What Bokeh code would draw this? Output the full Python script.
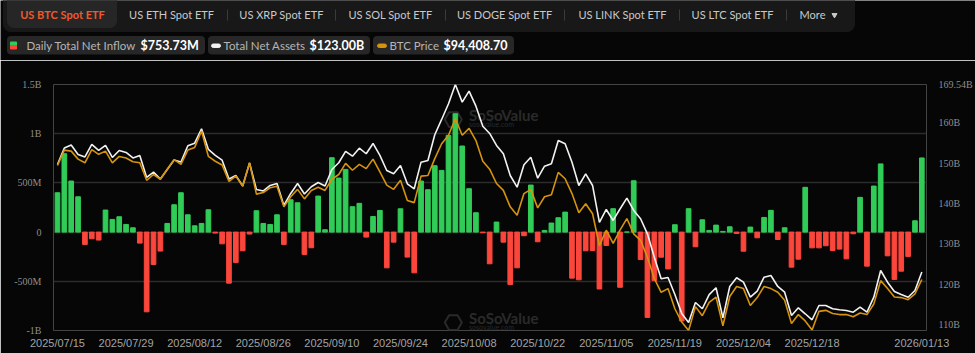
from bokeh.plotting import figure
from bokeh.models import Range1d, LinearAxis, FixedTicker
from bokeh.core.properties import value
from bokeh.embed import file_html
from bokeh.resources import INLINE

# ---------------- data ----------------
tick_idx = [0, 10, 20, 30, 40, 50, 60, 70, 80, 90, 100, 110, 126]
tick_labels = ["2025/07/15", "2025/07/29", "2025/08/12", "2025/08/26", "2025/09/10",
               "2025/09/24", "2025/10/08", "2025/10/22", "2025/11/05", "2025/11/19",
               "2025/12/04", "2025/12/18", "2026/01/13"]

# daily total net inflow, million USD (one per trading day)
net_inflow_m = [400, 797, 519, 359, -125, -68, -81, 224, 129, 156,
                78, 44, -112, -810, -329, -193, 88, 278, 400, 176,
                64, 88, 227, -10, -119, -519, -308, -190, -20, 217,
                88, 78, 176, -125, 329, 298, -227, -159, 366, 24,
                756, 549, 637, 258, 292, -51, 159, 220, -363, -102,
                237, -254, -414, 519, 431, 675, 627, 983, 1203, 875,
                441, 197, -7, -322, 102, -102, -532, -363, -37, 478,
                -98, 17, 92, 146, 203, -468, -485, -190, -187, -578,
                -136, 238, -561, 1, 522, -279, -867, -493, -255, -374,
                75, -903, 238, -149, 125, 17, 71, 7, 54, -14,
                -194, 51, -58, 149, 221, -75, 44, -356, -275, 455,
                -160, -160, -139, -187, -173, -272, -17, 353, -346, 468,
                693, -241, -481, -397, -247, 115, 753.73]

# total net assets, billion USD
net_assets_b = [149.70, 153.80, 154.54, 152.18, 151.56, 154.67, 153.18, 154.42, 151.44, 153.18,
                152.68, 151.32, 151.94, 146.48, 147.79, 146.10, 148.46, 150.82, 150.32, 154.34,
                154.99, 158.56, 153.42, 151.94, 150.77, 146.10, 146.97, 144.37, 150.07, 143.50,
                143.13, 144.49, 145.00, 139.53, 142.51, 144.99, 142.38, 144.17, 145.24, 144.37,
                148.46, 150.12, 152.93, 151.76, 153.75, 152.36, 154.91, 151.94, 148.21, 147.39,
                149.45, 144.91, 143.67, 150.27, 150.69, 157.07, 160.87, 164.76, 169.54, 165.16,
                167.89, 164.17, 159.20, 157.39, 154.42, 152.36, 146.97, 144.07, 149.63, 151.51,
                146.30, 149.28, 149.88, 155.66, 154.84, 150.27, 144.49, 147.39, 144.49, 135.31,
                138.54, 135.81, 138.66, 141.34, 138.29, 136.23, 132.50, 126.70, 121.34, 121.66,
                117.44, 112.73, 110.50, 115.46, 113.90, 117.40, 119.11, 111.66, 119.43, 121.59,
                120.50, 116.77, 118.26, 121.74, 122.16, 119.43, 118.01, 112.23, 114.14, 112.66,
                111.17, 114.71, 114.71, 113.90, 113.65, 113.47, 113.05, 114.29, 113.05, 116.77,
                123.40, 120.50, 118.19, 117.44, 116.77, 118.44, 123.00]

# BTC price, thousand USD
btc_price_k = [115.9, 118.8, 118.6, 117.1, 116.4, 118.9, 118.0, 118.6, 116.4, 117.6,
               117.3, 116.6, 116.4, 113.1, 114.2, 113.3, 115.2, 117.0, 116.1, 118.8,
               119.3, 122.4, 117.6, 116.7, 116.0, 112.9, 113.9, 112.0, 116.4, 110.5,
               110.8, 111.7, 112.0, 108.1, 110.0, 111.4, 109.6, 111.2, 111.8, 111.2,
               113.3, 114.2, 116.3, 115.0, 116.1, 115.3, 117.1, 114.7, 112.2, 111.4,
               113.1, 109.3, 108.9, 113.9, 114.0, 117.2, 120.0, 121.6, 124.7, 121.6,
               122.9, 120.6, 116.7, 115.2, 112.5, 111.2, 108.1, 106.5, 110.6, 111.4,
               107.9, 110.0, 110.4, 114.6, 113.4, 110.6, 107.0, 108.7, 106.8, 100.8,
               103.7, 101.2, 103.7, 105.9, 103.0, 101.8, 98.6, 94.6, 92.0, 92.7,
               88.9, 86.4, 84.8, 89.3, 87.6, 90.1, 91.1, 85.7, 91.2, 93.1,
               92.7, 89.5, 91.0, 93.1, 92.7, 92.0, 90.5, 86.1, 87.8, 86.6,
               84.9, 88.4, 88.6, 88.0, 87.8, 87.8, 87.4, 88.1, 87.8, 89.8,
               94.2, 92.7, 91.1, 91.0, 90.6, 91.7, 94.41]

left_ticks = [-1000, -500, 0, 500, 1000, 1500]
left_labels = ["-1B", "-500M", "0", "500M", "1B", "1.5B"]
right_ticks = [110, 120, 130, 140, 150, 160, 169.54]
right_labels = ["110B", "120B", "130B", "140B", "150B", "160B", "169.54B"]

tabs = ["US BTC Spot ETF", "US ETH Spot ETF", "US XRP Spot ETF", "US SOL Spot ETF",
        "US DOGE Spot ETF", "US LINK Spot ETF", "US LTC Spot ETF", "More"]

BG = "#060606"
GREEN = "#31cc57"
RED = "#fb463b"
WHITE = "#f2f2f2"
ORANGE = "#d6930c"

# ---------------- header ----------------
h = figure(width=975, height=60, x_range=Range1d(0, 975), y_range=Range1d(60, 0),
           output_backend="svg", toolbar_location=None, min_border=0,
           min_border_left=0, min_border_right=0, min_border_top=0, min_border_bottom=0,
           x_axis_location=None, y_axis_location=None)
h.grid.visible = False
h.outline_line_color = None
h.background_fill_color = BG
h.border_fill_color = BG

h.quad(left=3, right=854, top=-8, bottom=31, color="#181818", border_radius=7)
h.quad(left=7, right=116, top=-8, bottom=27, color="#262626", border_radius=6)

tab_x = [62, 171, 281, 390, 504, 622, 732, 812]
h.text(x=tab_x[:1], y=[14.3], text=tabs[:1], text_align="center", text_baseline="middle",
       text_font=value("Lato"), text_font_size="11px", text_font_style="bold",
       text_color="#ec5a30")
h.text(x=tab_x[1:], y=[14.3] * 7, text=tabs[1:], text_align="center", text_baseline="middle",
       text_font=value("Lato"), text_font_size="11px", text_color="#c9c9c9")
sep_x = [227, 335, 445, 564, 679, 786]
h.segment(x0=sep_x, y0=[9] * 6, x1=sep_x, y1=[20] * 6, line_color="#3a3a3a", line_width=1)
h.scatter(x=[834], y=[14.5], marker="inverted_triangle", size=5, color="#c9c9c9")

# legend boxes
h.quad(left=[7, 208, 373], right=[204, 369, 513], top=[36] * 3, bottom=[53.5] * 3,
       color="#272727", border_radius=3)
h.quad(left=10, right=16, top=41.5, bottom=45, color=GREEN)
h.quad(left=10, right=16, top=45, bottom=48.5, color=RED)
h.quad(left=211, right=220, top=43.5, bottom=47, color=WHITE, border_radius=2)
h.quad(left=377, right=386, top=43.5, bottom=47, color=ORANGE, border_radius=2)
h.text(x=[26, 223, 389], y=[45] * 3,
       text=["Daily Total Net Inflow", "Total Net Assets", "BTC Price"],
       text_align="left", text_baseline="middle", text_font=value("Lato"),
       text_font_size="11.5px", text_color="#b5b5b5")
h.text(x=[140, 309, 443], y=[45] * 3,
       text=["$753.73M", "$123.00B", "$94,408.70"],
       text_align="left", text_baseline="middle", text_font=value("Lato"),
       text_font_size="12.5px", text_font_style="bold", text_color="#ffffff")

# ---------------- chart ----------------
n = len(net_inflow_m)
idx = list(range(n))
colors = [GREEN if v >= 0 else RED for v in net_inflow_m]

p = figure(width=975, height=293, x_range=Range1d(-0.58, 126.68), y_range=Range1d(-1000, 1500),
           min_border_left=53, min_border_right=42, min_border_top=24, min_border_bottom=23,
           output_backend="svg", toolbar_location=None)
p.extra_y_ranges = {"assets": Range1d(108.51, 169.54), "btc": Range1d(84.8, 131.16)}
p.background_fill_color = BG
p.border_fill_color = BG
p.outline_line_color = None
p.xgrid.visible = False
p.ygrid.grid_line_color = "#2c2c2c"
p.ygrid.grid_line_width = 1.3

lax = p.left[0]
lax.ticker = FixedTicker(ticks=left_ticks)
lax.major_label_overrides = dict(zip(left_ticks, left_labels))
lax.axis_line_color = None
lax.major_tick_line_color = None
lax.minor_tick_line_color = None
lax.major_label_standoff = 6
lax.major_label_text_font = "Liberation Serif"
lax.major_label_text_font_size = "10px"
lax.major_label_text_color = "#8e8e8e"

xax = p.below[0]
xax.ticker = FixedTicker(ticks=tick_idx)
xax.major_label_overrides = dict(zip(tick_idx, tick_labels))
xax.axis_line_color = None
xax.major_tick_line_color = None
xax.minor_tick_line_color = None
xax.major_label_standoff = 0
xax.major_label_text_font = "Liberation Sans"
xax.major_label_text_font_size = "11px"
xax.major_label_text_color = "#a3a3a3"

rax = LinearAxis(y_range_name="assets", ticker=FixedTicker(ticks=right_ticks))
rax.major_label_overrides = dict(zip(right_ticks, right_labels))
rax.axis_line_color = None
rax.major_tick_line_color = None
rax.minor_tick_line_color = None
rax.major_label_standoff = 6
rax.major_label_text_font = "Liberation Serif"
rax.major_label_text_font_size = "10px"
rax.major_label_text_color = "#8e8e8e"
p.add_layout(rax, "right")

# faint watermarks
wm_color = "#2a2a2a"
p.scatter(x=[57.7, 57.7], y=[1144, -919], marker="hex", size=17, fill_color=None,
          line_color=wm_color, line_width=2)
p.text(x=[60.0, 60.0], y=[1190, -873], text=["SoSoValue", "SoSoValue"], text_align="left",
       text_baseline="middle", text_font=value("Lato"), text_font_size="15px",
       text_font_style="bold", text_color=wm_color)
p.text(x=[60.0, 60.0], y=[1098, -965], text=["sosovalue.com", "sosovalue.com"], text_align="left",
       text_baseline="middle", text_font=value("Lato"), text_font_size="7px", text_color=wm_color)

p.vbar(x=idx, top=net_inflow_m, width=0.68, color=colors)
p.line(idx, net_assets_b, y_range_name="assets", color=WHITE, line_width=1.6)
p.line(idx, btc_price_k, y_range_name="btc", color=ORANGE, line_width=1.6)

open("out.html", "w").write(file_html([h, p], INLINE))
